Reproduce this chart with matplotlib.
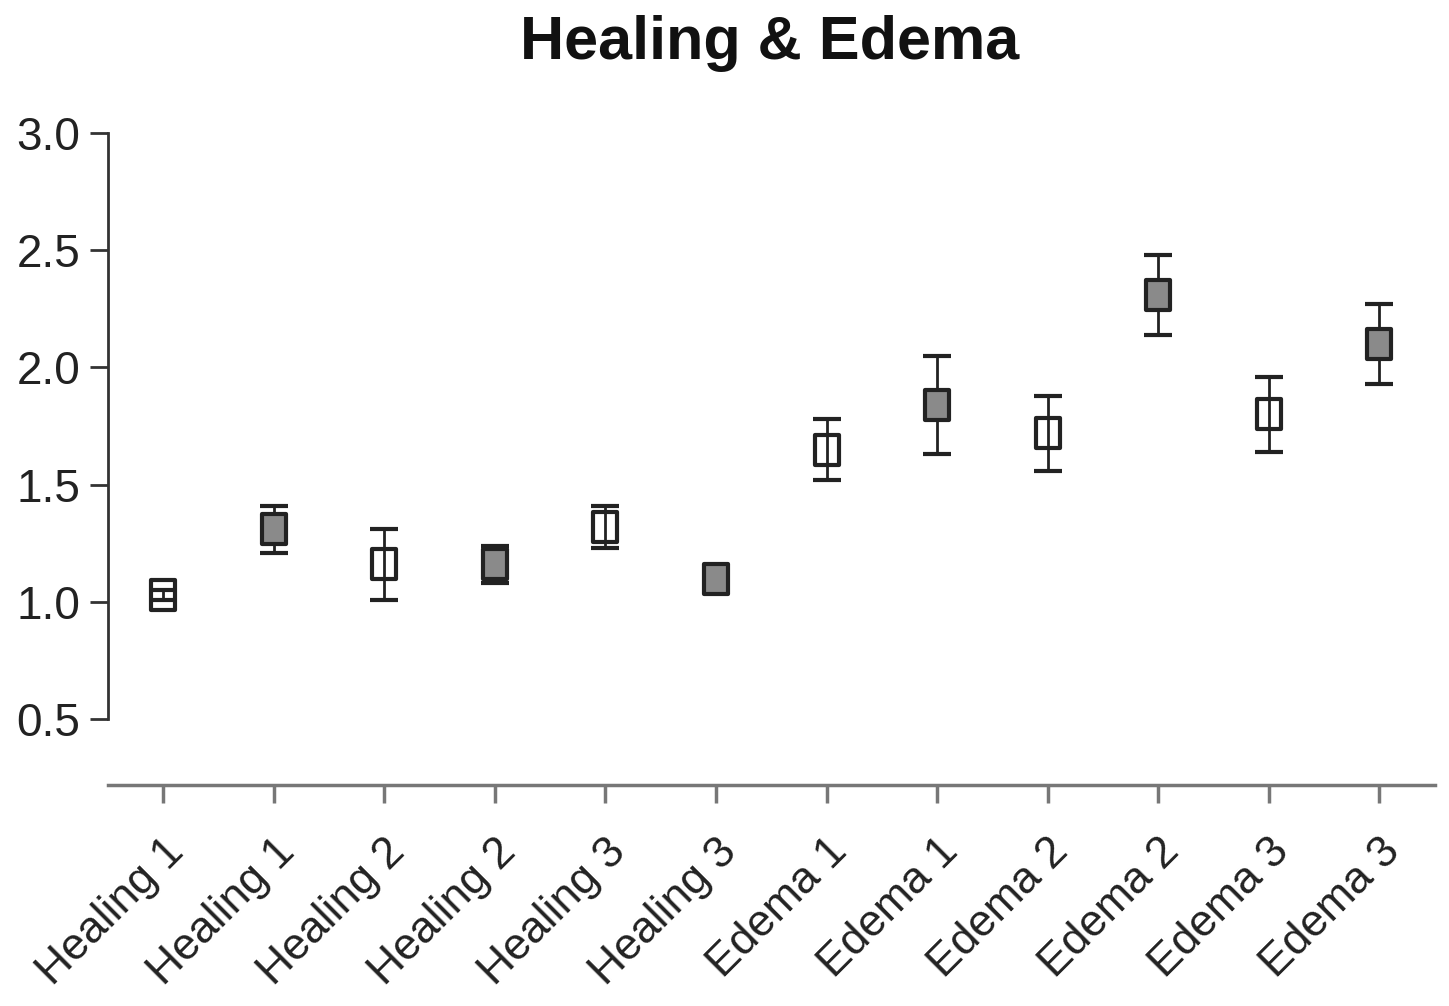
import numpy as np
import matplotlib.pyplot as plt
from matplotlib.path import Path

plt.rcParams['font.family'] = ['Liberation Sans', 'DejaVu Sans']

labels = ["Healing 1", "Healing 1", "Healing 2", "Healing 2", "Healing 3", "Healing 3",
          "Edema 1", "Edema 1", "Edema 2", "Edema 2", "Edema 3", "Edema 3"]
means = [1.03, 1.31, 1.16, 1.16, 1.32, 1.10, 1.65, 1.84, 1.72, 2.31, 1.80, 2.10]
errs = [0.02, 0.10, 0.15, 0.08, 0.09, 0.03, 0.13, 0.21, 0.16, 0.17, 0.16, 0.17]
filled = [False, True, False, True, False, True, False, True, False, True, False, True]

# slightly tall rectangle marker
rect = Path([(-0.78, -1), (0.78, -1), (0.78, 1), (-0.78, 1), (-0.78, -1)],
            [Path.MOVETO, Path.LINETO, Path.LINETO, Path.LINETO, Path.CLOSEPOLY])

fig = plt.figure(figsize=(14.49, 10.06), dpi=100)
ax = fig.add_axes([0.0745, 0.2197, 0.9155, 0.6483])

x = np.arange(len(labels))
for i in x:
    ax.errorbar(x[i], means[i], yerr=errs[i], fmt='none', ecolor='#222222',
                elinewidth=2, capsize=10, capthick=3, zorder=2)
    ax.plot(x[i], means[i], marker=rect, markersize=22, linestyle='none',
            markerfacecolor='#8a8a8a' if filled[i] else 'none',
            markeredgecolor='#222222', markeredgewidth=3, zorder=3)

ax.set_xlim(-0.5, 11.5)
ax.set_ylim(0.22, 3.0)
ax.set_yticks([0.5, 1.0, 1.5, 2.0, 2.5, 3.0])
ax.set_yticklabels(["0.5", "1.0", "1.5", "2.0", "2.5", "3.0"])
ax.set_xticks(x)
ax.set_xticklabels(labels, rotation=45, ha='right', rotation_mode='anchor')

for s in ['top', 'right']:
    ax.spines[s].set_visible(False)
ax.spines['left'].set_bounds(0.5, 3.0)
ax.spines['left'].set_color('#333333')
ax.spines['left'].set_linewidth(2)
ax.spines['bottom'].set_color('#777777')
ax.spines['bottom'].set_linewidth(2.5)

ax.tick_params(axis='y', length=13, width=2, color='#333333', pad=7,
               labelsize=33, labelcolor='#222222')
ax.tick_params(axis='x', length=13, width=2.5, color='#777777', pad=20,
               labelsize=32, labelcolor='#222222')

fig.suptitle("Healing & Edema", fontsize=44, fontweight='bold', x=0.531, y=0.985,
             va='top', color='#111111')

fig.savefig("out.png", dpi=100, facecolor='white')
